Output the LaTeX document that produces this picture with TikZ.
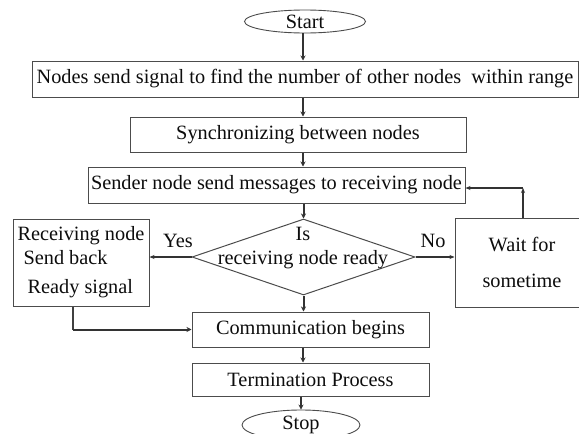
\documentclass[tikz,border=0pt]{standalone}
\usepackage{fontspec}
\setmainfont{Liberation Serif}
\usetikzlibrary{arrows.meta,shapes.geometric}
\begin{document}
\begin{tikzpicture}[x=1pt,y=-1pt,
  txt/.style={font=\fontsize{20.3}{24}\selectfont,text=black!95},
  box/.style={txt,draw=black!70,line width=1pt,rectangle,inner sep=0pt},
  term/.style={txt,draw=black!70,line width=0.9pt,ellipse,inner sep=0pt},
  flow/.style={draw=black!80,line width=1.1pt,-{Stealth[length=5pt,width=4pt]}},
  boldflow/.style={draw=black!80,line width=2pt,-{Stealth[length=5pt,width=5pt]}},
  plain/.style={draw=black!75,line width=1.1pt},
  lbl/.style={txt,inner sep=0pt}
]
\clip (0,0) rectangle (579,434);
\fill[white] (0,0) rectangle (579,434);
\coordinate (spine) at (303,0);
\node[term,minimum width=121pt,minimum height=23pt] (start) at (305,21.5) {Start};
\node[box,minimum width=546pt,minimum height=36pt] (b1) at (305,79) {Nodes send signal to find the number of other nodes\ \ within range};
\node[box,minimum width=336pt,minimum height=35pt] (b2) at (298,134.5) {Synchronizing between nodes};
\node[box,minimum width=377pt,minimum height=36pt] (b3) at (276.5,185) {Sender node send messages to receiving node};
\node[draw=black!70,line width=1pt,diamond,minimum width=223pt,minimum height=76pt,inner sep=0pt] (dec) at (303.5,257) {};
\node[txt,align=center,inner sep=0pt] (dectext) at (303,248) {Is\\receiving node ready};
\node[box,minimum width=136pt,minimum height=87pt,align=left] (rx) at (81,262.5) {Receiving node\\\hspace*{6pt}Send back\\[5pt]\hspace*{10pt}Ready signal};
\node[box,minimum width=130pt,minimum height=89pt,align=center] (wait) at (520,262.5) {\hspace*{4pt}Wait for\\[12pt]\hspace*{4pt}sometime};
\node[box,minimum width=237pt,minimum height=35pt] (comm) at (310.5,329.5) {Communication begins};
\node[box,minimum width=237pt,minimum height=33pt] (termp) at (310.5,379.5) {Termination Process};
\node[term,minimum width=118pt,minimum height=30pt] (stop) at (301,425) {Stop};
\node[lbl] (yes) at (178,241) {Yes};
\node[lbl] (no) at (433,241) {No};
\coordinate (fb) at (523,188);
\coordinate (lc) at (73,329.5);
\draw[boldflow] (start.south -| spine) -- (b1.north -| spine);
\draw[boldflow] (b1.south -| spine) -- (b2.north -| spine);
\draw[boldflow] (b2.south -| spine) -- (b3.north -| spine);
\draw[boldflow] (b3.south -| dec.north) -- (dec.north);
\draw[flow] (dec.west) -- (dec.west -| rx.east);
\draw[flow] (dec.east) -- (dec.east -| wait.west);
\draw[flow] (wait.north -| fb) -- (fb);
\draw[flow] (fb) -- (fb -| b3.east);
\draw[plain] (rx.south -| lc) -- (lc);
\draw[boldflow] (lc) -- (comm.west);
\draw[boldflow] (dec.south) -- (dec.south |- comm.north);
\draw[boldflow] (comm.south -| spine) -- (termp.north -| spine);
\draw[boldflow] (termp.south -| stop.north) -- (stop.north);
\end{tikzpicture}
\end{document}
